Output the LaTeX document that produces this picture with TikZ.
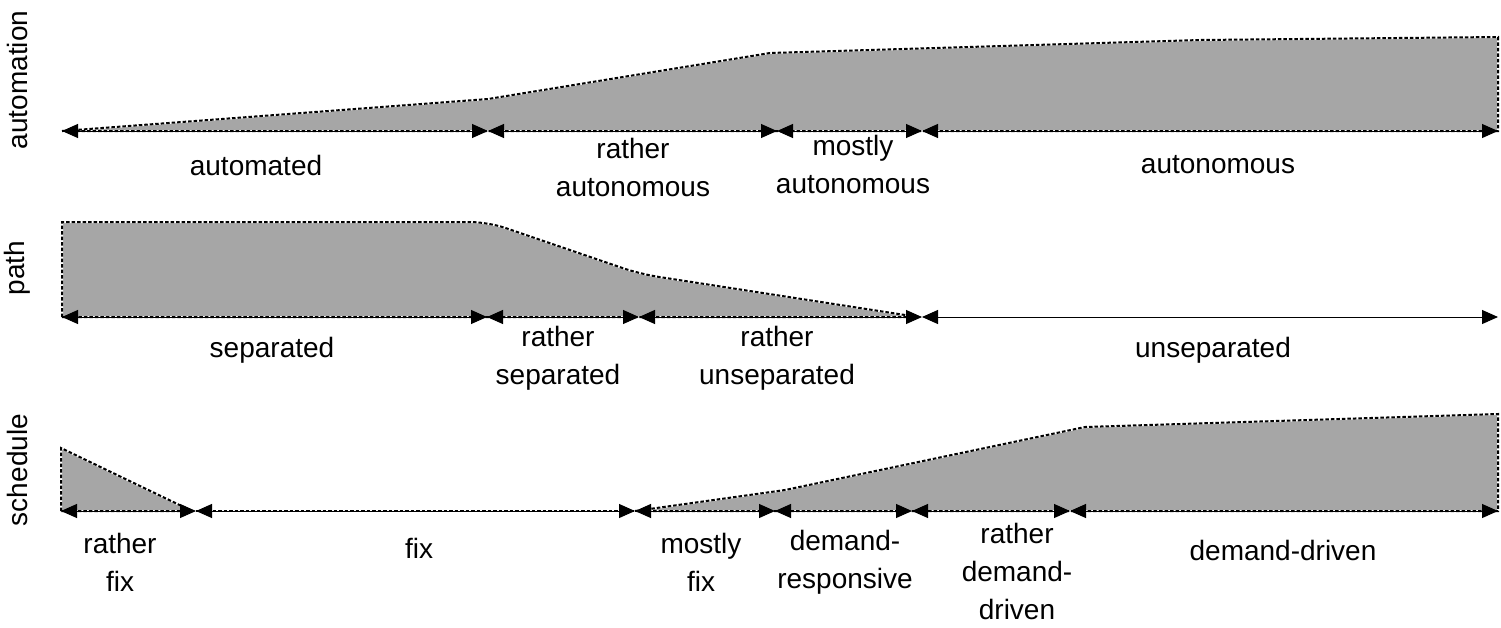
\documentclass[tikz,border=0pt]{standalone}
\usepackage{fontspec}
\setmainfont{Liberation Sans}
\usetikzlibrary{arrows.meta}
\definecolor{bandgray}{RGB}{166,166,166}
\begin{document}
\begin{tikzpicture}[x=1pt,y=-1pt,
  lbl/.style={font=\fontsize{28pt}{38pt}\selectfont, align=center, inner sep=0pt},
  axis/.style={font=\fontsize{28pt}{38pt}\selectfont, rotate=90, inner sep=0pt},
  band/.style={fill=bandgray, draw=white, line width=2pt,
    postaction={draw=black, line width=2pt, dash pattern=on 3.5pt off 2pt}},
  span/.style={{Triangle[length=16pt,width=14pt]}-{Triangle[length=16pt,width=14pt]},
    line width=1pt}]
\useasboundingbox (0,0) rectangle (1501,627);

% ---------- automation ----------
\coordinate (a0) at (62,131);
\coordinate (a1) at (488,131);
\coordinate (a2) at (777,131);
\coordinate (a3) at (922,131);
\coordinate (a4) at (1498,131);
\path[band] (a0) -- (488,99) -- (770,53) -- (1200,40) -- (1498,37) -- (a4) -- cycle;
\draw[span] (a0) -- (a1);
\draw[span] (a1) -- (a2);
\draw[span] (a2) -- (a3);
\draw[span] (a3) -- (a4);
\node[axis] (tA) at (17,80) {automation};
\node[lbl] (lA1) at (256,165) {automated};
\node[lbl] (lA2) at (633,167) {rather\\autonomous};
\node[lbl] (lA3) at (853,164) {mostly\\autonomous};
\node[lbl] (lA4) at (1218,165) {autonomous};

% ---------- path ----------
\coordinate (p0) at (62,317);
\coordinate (p1) at (487,317);
\coordinate (p2) at (639,317);
\coordinate (p3) at (922,317);
\coordinate (p4) at (1498,317);
\path[band] (p0) -- (62,222) [rounded corners=18pt] -- (488,222) -- (640,274) [sharp corners] -- (918,317) -- cycle;
\draw[span] (p0) -- (p1);
\draw[span] (p1) -- (p2);
\draw[span] (p2) -- (p3);
\draw[span] (p3) -- (p4);
\node[axis] (tP) at (17,268) {path};
\node[lbl] (lP1) at (272,350) {separated};
\node[lbl] (lP2) at (558,358) {rather\\separated};
\node[lbl] (lP3) at (777,358) {rather\\unseparated};
\node[lbl] (lP4) at (1213,350) {unseparated};

% ---------- schedule ----------
\coordinate (s0) at (61,511);
\coordinate (s1) at (196,511);
\coordinate (s2) at (635,511);
\coordinate (s3) at (775,511);
\coordinate (s4) at (912,511);
\coordinate (s5) at (1070,511);
\coordinate (s6) at (1498,511);
\path[band] (s0) -- (61,448) -- (192,511) -- cycle;
\path[band] (s2) -- (785,490) -- (1085,427) -- (1498,414) -- (s6) -- cycle;
\draw[black, line width=2pt, dash pattern=on 3.5pt off 2pt] (s1) -- (s2);
\draw[span] (s0) -- (s1);
\draw[span] (s1) -- (s2);
\draw[span] (s2) -- (s3);
\draw[span] (s3) -- (s4);
\draw[span] (s4) -- (s5);
\draw[span] (s5) -- (s6);
\node[axis] (tS) at (17,470) {schedule};
\node[lbl] (lS1) at (120,562) {rather\\fix};
\node[lbl] (lS2) at (419,548) {fix};
\node[lbl] (lS3) at (701,562) {mostly\\fix};
\node[lbl] (lS4) at (845,562) {demand-\\responsive};
\node[lbl] (lS5) at (1017,571) {rather\\demand-\\driven};
\node[lbl] (lS6) at (1283,550) {demand-driven};
\end{tikzpicture}
\end{document}
